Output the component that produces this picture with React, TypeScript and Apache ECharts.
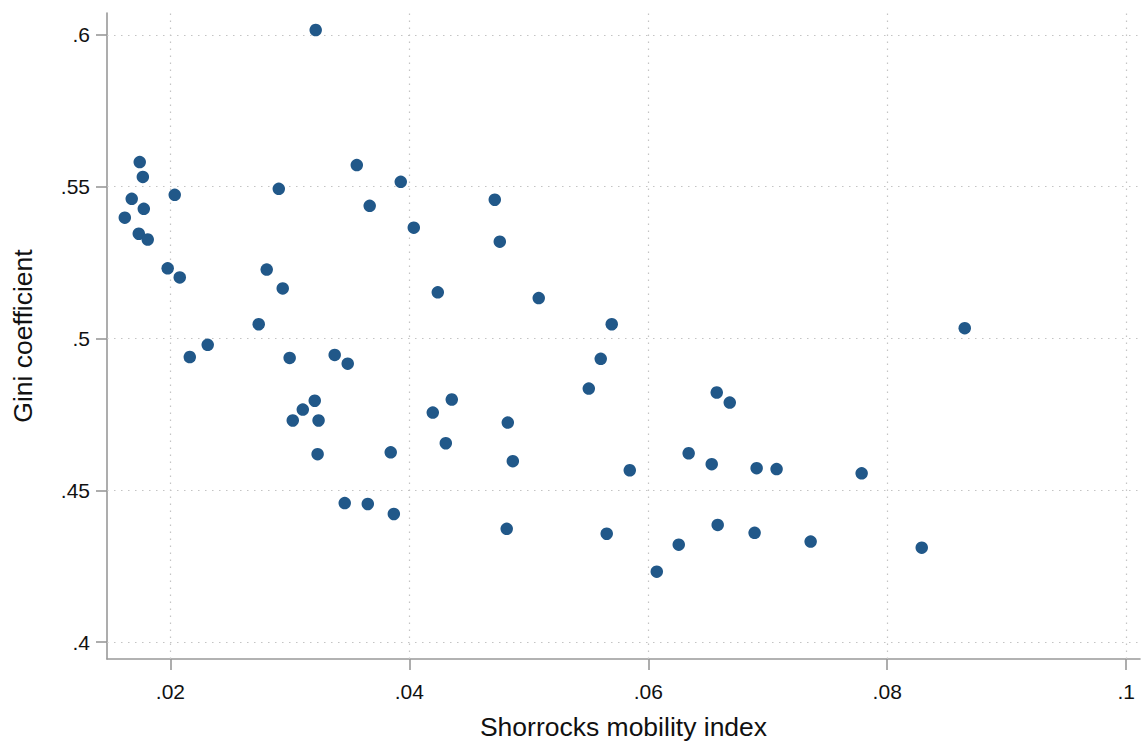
import React, { useEffect, useRef } from "react";
import * as echarts from "echarts";

const mobility: number[] = [
  0.03216, 0.01743, 0.01769, 0.01676, 0.01777, 0.01618, 0.01735, 0.0181, 0.02036, 0.01977,
  0.02078, 0.02162, 0.02312, 0.02907, 0.02806, 0.0294, 0.02739, 0.02998, 0.03375, 0.03484,
  0.03208, 0.03108, 0.03024, 0.0324, 0.03232, 0.0356, 0.03928, 0.03668, 0.04037, 0.03844,
  0.03459, 0.03652, 0.0387, 0.04238, 0.04196, 0.04355, 0.04305, 0.04715, 0.04757, 0.05083,
  0.04824, 0.04866, 0.04815, 0.05694, 0.05602, 0.05502, 0.05845, 0.05652, 0.06071, 0.06255,
  0.06338, 0.06531, 0.06573, 0.06682, 0.06581, 0.06907, 0.07074, 0.0689, 0.07359, 0.07786,
  0.08289, 0.08649,
];
const gini: number[] = [
  0.6016, 0.5581, 0.5532, 0.546, 0.5427, 0.5398, 0.5345, 0.5326, 0.5473, 0.5231,
  0.5201, 0.4939, 0.4979, 0.5493, 0.5227, 0.5165, 0.5047, 0.4936, 0.4946, 0.4917,
  0.4795, 0.4766, 0.473, 0.473, 0.4619, 0.5571, 0.5516, 0.5437, 0.5365, 0.4625,
  0.4458, 0.4455, 0.4422, 0.5152, 0.4756, 0.4799, 0.4655, 0.5457, 0.5319, 0.5133,
  0.4723, 0.4596, 0.4373, 0.5047, 0.4933, 0.4835, 0.4566, 0.4357, 0.4232, 0.4321,
  0.4622, 0.4586, 0.4822, 0.4789, 0.4386, 0.4573, 0.457, 0.436, 0.4331, 0.4556,
  0.4311, 0.5034,
];
const xTicks: number[] = [0.02, 0.04, 0.06, 0.08, 0.1];
const yTicks: number[] = [0.4, 0.45, 0.5, 0.55, 0.6];

const fmt = (v: number) => String(Number(v.toFixed(4))).replace(/^0\./, ".");

export default function App() {
  const ref = useRef<HTMLDivElement>(null);
  useEffect(() => {
    if (!ref.current) return;
    const chart = echarts.init(ref.current, undefined, { renderer: "svg" });
    const axisColor = "#999999";
    const gridStyle = { color: "#c4c4c4", width: 1.2, type: [1.5, 5.5] as any };
    chart.setOption({
      animation: false,
      backgroundColor: "#ffffff",
      textStyle: { fontFamily: "Liberation Sans, Arial, sans-serif" },
      grid: { left: 107, right: 2, top: 13, bottom: 82, containLabel: false },
      xAxis: {
        type: "value",
        min: 0.01469,
        max: 0.10116,
        name: "Shorrocks mobility index",
        nameLocation: "middle",
        nameGap: 54,
        nameTextStyle: { fontSize: 26.5, color: "#111" },
        axisLine: { show: true, lineStyle: { color: axisColor, width: 1.6 } },
        axisTick: { show: true, length: 11, lineStyle: { color: axisColor, width: 1.6 }, customValues: xTicks },
        axisLabel: { fontSize: 21, color: "#111", margin: 22, customValues: xTicks, formatter: (v: number) => fmt(v) },
        splitLine: { show: false },
      },
      yAxis: {
        type: "value",
        min: 0.39444,
        max: 0.6072,
        name: "Gini coefficient",
        nameLocation: "middle",
        nameGap: 71,
        nameRotate: 90,
        nameTextStyle: { fontSize: 26.5, color: "#111" },
        axisLine: { show: true, lineStyle: { color: axisColor, width: 1.6 } },
        axisTick: { show: true, length: 11, lineStyle: { color: axisColor, width: 1.6 }, customValues: yTicks },
        axisLabel: { fontSize: 21, color: "#111", margin: 17, customValues: yTicks, formatter: (v: number) => fmt(v) },
        splitLine: { show: false },
      },
      series: [
        {
          type: "scatter",
          symbol: "circle",
          symbolSize: 12.5,
          itemStyle: { color: "#215889", opacity: 1 },
          data: mobility.map((x, i) => [x, gini[i]]),
          z: 5,
          markLine: {
            silent: true,
            symbol: "none",
            label: { show: false },
            lineStyle: gridStyle,
            z: 1,
            data: [
              ...xTicks.map((v) => ({ xAxis: v, lineStyle: gridStyle })),
              ...yTicks.map((v) => ({ yAxis: v, lineStyle: gridStyle })),
            ],
          },
        },
      ],
    });
    return () => chart.dispose();
  }, []);
  return (
    <div
      ref={ref}
      style={{ position: "fixed", left: 0, top: 0, width: 1142, height: 745, background: "#fff" }}
    />
  );
}
